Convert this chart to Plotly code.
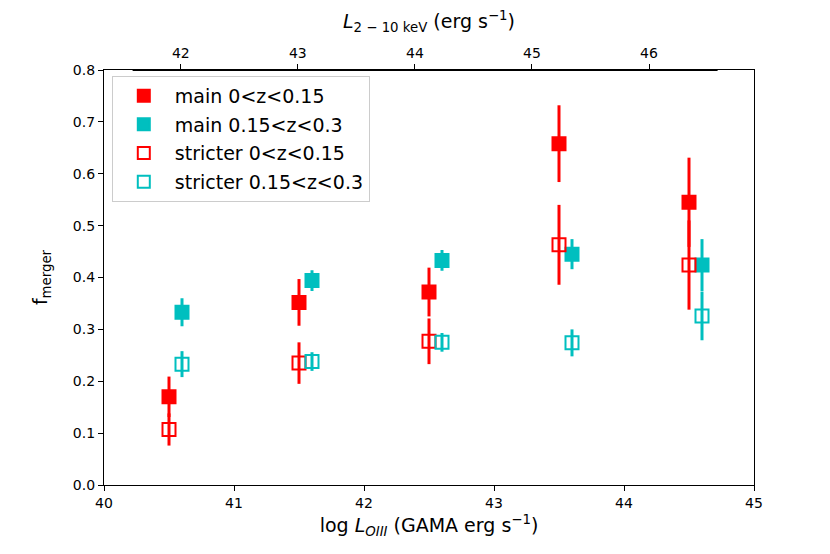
import plotly.graph_objects as go

# ---- data ----
x_main_low = [40.5, 41.5, 42.5, 43.5, 44.5]
x_main_high = [40.6, 41.6, 42.6, 43.6, 44.6]

f_main_low = [0.170, 0.352, 0.372, 0.658, 0.545]
e_main_low = [0.039, 0.045, 0.047, 0.074, 0.086]

f_main_high = [0.333, 0.394, 0.433, 0.445, 0.424]
e_main_high = [0.027, 0.020, 0.020, 0.029, 0.050]

f_strict_low = [0.107, 0.235, 0.277, 0.463, 0.424]
e_strict_low = [0.031, 0.040, 0.044, 0.077, 0.086]

f_strict_high = [0.233, 0.238, 0.275, 0.274, 0.326]
e_strict_high = [0.025, 0.018, 0.018, 0.026, 0.047]

lx_ticks = [42, 43, 44, 45, 46]
loiii_ticks = [40, 41, 42, 43, 44, 45]
y_ticks = [0.0, 0.1, 0.2, 0.3, 0.4, 0.5, 0.6, 0.7, 0.8]

RED = "#ff0000"
CYAN = "#00bfbf"
FONT = "DejaVu Sans"

fig = go.Figure()

def add(x, y, e, color, symbol, name):
    fig.add_trace(go.Scatter(
        x=x, y=y, mode="markers", name=name, legendgroup=name,
        marker=dict(symbol=symbol, size=13, color=color,
                    line=dict(width=2, color=color)),
        error_y=dict(type="data", array=e, visible=True, color=color,
                     thickness=3, width=0),
    ))

add(x_main_low, f_main_low, e_main_low, RED, "square", "main 0<z<0.15")
add(x_main_high, f_main_high, e_main_high, CYAN, "square", "main 0.15<z<0.3")
add(x_main_low, f_strict_low, e_strict_low, RED, "square-open", "stricter 0<z<0.15")
add(x_main_high, f_strict_high, e_strict_high, CYAN, "square-open", "stricter 0.15<z<0.3")

# invisible trace to activate top axis
fig.add_trace(go.Scatter(x=lx_ticks, y=[None] * len(lx_ticks), xaxis="x2",
                         mode="markers", marker=dict(opacity=0),
                         showlegend=False, hoverinfo="skip"))

fig.update_layout(
    width=830, height=554,
    margin=dict(l=96, r=84, t=58, b=77),
    plot_bgcolor="white", paper_bgcolor="white",
    font=dict(family=FONT, size=14, color="black"),
    showlegend=True,
    legend=dict(x=0.012, y=0.986, xanchor="left", yanchor="top",
                bgcolor="rgba(255,255,255,0.85)", bordercolor="#cccccc",
                borderwidth=1, font=dict(size=19, family=FONT),
                itemsizing="constant", tracegroupgap=1, itemwidth=52),
    xaxis=dict(
        range=[40, 45], tickvals=loiii_ticks, ticks="outside", ticklen=5,
        tickwidth=1, tickcolor="black", showline=True, linecolor="black",
        linewidth=1.2, mirror=True, showgrid=False, zeroline=False,
        tickfont=dict(size=14),
        title=dict(text="log <i>L<sub>OIII</sub></i> (GAMA erg s<sup>−1</sup>)",
                   font=dict(size=19), standoff=8),
    ),
    xaxis2=dict(
        overlaying="x", side="top", range=[41.344, 46.897],
        tickvals=lx_ticks, ticks="outside", ticklen=5, tickwidth=1,
        tickcolor="black", showline=False, showgrid=False, zeroline=False,
        tickfont=dict(size=14),
        title=dict(text="<i>L</i><sub>2 − 10 keV</sub> (erg s<sup>−1</sup>)",
                   font=dict(size=19), standoff=12),
    ),
    yaxis=dict(
        range=[0, 0.8], tickvals=y_ticks, tickformat=".1f", ticks="outside",
        ticklen=5, tickwidth=1, tickcolor="black", showline=True,
        linecolor="black", linewidth=1.2, mirror=True, showgrid=False,
        zeroline=False, tickfont=dict(size=14),
        title=dict(text="f<sub>merger</sub>", font=dict(size=19), standoff=20),
    ),
)

# thicker top spine segment of twin axis
fig.add_shape(type="line", xref="x", yref="paper", x0=40.22, x1=44.72,
              y0=1, y1=1, line=dict(color="black", width=2.2))

fig.write_html("out.html")
